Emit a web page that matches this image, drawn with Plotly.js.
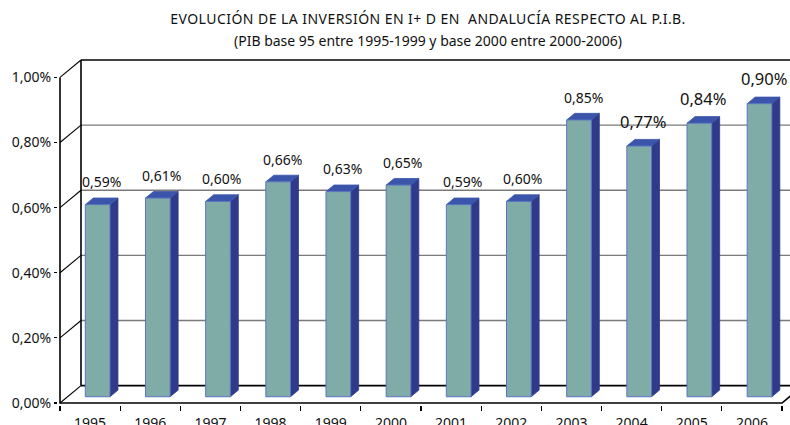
<!DOCTYPE html>
<html>
<head>
<meta charset="utf-8">
<script src="https://cdn.plot.ly/plotly-3.0.1.min.js"></script>
<style>
  html, body { margin: 0; padding: 0; background: #fff; }
  #chart { width: 790px; height: 425px; }
  #chart .gtitle { letter-spacing: 0.45px; }
</style>
</head>
<body>
<div id="chart"></div>
<script>
// ---------------- DATA ----------------
const years = ['1995', '1996', '1997', '1998', '1999', '2000', '2001', '2002', '2003', '2004', '2005', '2006'];
const values = [0.59, 0.61, 0.60, 0.66, 0.63, 0.65, 0.59, 0.60, 0.85, 0.77, 0.84, 0.90]; // % of GDP
const yTickVals = [0, 0.2, 0.4, 0.6, 0.8, 1.0];
const yTickText = ['0,00%', '0,20%', '0,40%', '0,60%', '0,80%', '1,00%'];
const titleText = 'EVOLUCIÓN DE LA INVERSIÓN EN I+ D EN  ANDALUCÍA RESPECTO AL P.I.B.';
const subtitleText = '(PIB base 95 entre 1995-1999 y base 2000 entre 2000-2006)';

// ---------------- GEOMETRY (layout only) ----------------
const W = 790, H = 425;
const PLOT_L = 58, PLOT_R = 790, PLOT_T = 54, PLOT_B = 405;
const FRONT_LEFT_PX = 60;     // pixel of category edge -0.5 on the front plane
const PX_PER_CAT = 60.17;
const ZERO_PX = 403.0;        // pixel of 0% on the front plane
const PX_PER_PCT = 325.6;
const DEPTH_DX_PX = 21, DEPTH_DY_PX = 17.4;
const DX = DEPTH_DX_PX / PX_PER_CAT;   // full depth in x units
const DY = DEPTH_DY_PX / PX_PER_PCT;   // full depth in y units
const xRange = [(PLOT_L - FRONT_LEFT_PX) / PX_PER_CAT - 0.5, (PLOT_R - FRONT_LEFT_PX) / PX_PER_CAT - 0.5];
const yRange = [(ZERO_PX - PLOT_B) / PX_PER_PCT, (ZERO_PX - PLOT_T) / PX_PER_PCT];

const BAR_W = 0.41, D0 = 0.36, D1 = 0.74, LABEL_D = 0.55;
const xFirst = -0.5, xLast = years.length - 0.5;
const yMax = yTickVals[yTickVals.length - 1];

function P(u, v, d) { return [u + d * DX, v + d * DY]; }

const traces = [];
function seg(points, color, width) {
  const xs = [], ys = [];
  points.forEach(p => { if (p === null) { xs.push(null); ys.push(null); } else { xs.push(p[0]); ys.push(p[1]); } });
  traces.push({ x: xs, y: ys, mode: 'lines', type: 'scatter', hoverinfo: 'skip',
    line: { color: color, width: width }, showlegend: false });
}

// back wall grid lines (grey), excluding bottom and top
const greyPts = [];
yTickVals.slice(1, -1).forEach(t => { greyPts.push(P(xFirst, t, 1), P(xLast, t, 1), null); });
seg(greyPts, '#7a7a7a', 1.3);

// left wall diagonals (black)
const diagPts = [];
yTickVals.forEach(t => { diagPts.push(P(xFirst, t, 0), P(xFirst, t, 1), null); });
seg(diagPts, '#000', 1.1);

// back wall frame: bottom, top, left & right verticals
seg([P(xFirst, 0, 1), P(xLast, 0, 1), null,
     P(xFirst, yMax, 1), P(xLast, yMax, 1), null,
     P(xFirst, 0, 1), P(xFirst, yMax, 1), null,
     P(xLast, 0, 1), P(xLast, yMax, 1)], '#000', 1.6);

// front y axis and floor front edge
seg([P(xFirst, yMax, 0), P(xFirst, 0, 0), P(xLast, 0, 0), P(xLast, 0, 1)], '#000', 1.6);

// bars: front, side, top faces
const fx = [], fy = [], sx = [], sy = [], tx = [], ty = [];
values.forEach((v, i) => {
  const l = i - BAR_W / 2, r = i + BAR_W / 2;
  const front = [P(l, 0, D0), P(r, 0, D0), P(r, v, D0), P(l, v, D0), P(l, 0, D0)];
  const side = [P(r, 0, D0), P(r, 0, D1), P(r, v, D1), P(r, v, D0), P(r, 0, D0)];
  const top = [P(l, v, D0), P(r, v, D0), P(r, v, D1), P(l, v, D1), P(l, v, D0)];
  front.forEach(p => { fx.push(p[0]); fy.push(p[1]); }); fx.push(null); fy.push(null);
  side.forEach(p => { sx.push(p[0]); sy.push(p[1]); }); sx.push(null); sy.push(null);
  top.forEach(p => { tx.push(p[0]); ty.push(p[1]); }); tx.push(null); ty.push(null);
});
traces.push({ x: sx, y: sy, type: 'scatter', mode: 'lines', fill: 'toself', fillcolor: '#2f3a8b',
  line: { color: '#2f3a8b', width: 0.8 }, hoverinfo: 'skip', showlegend: false });
traces.push({ x: tx, y: ty, type: 'scatter', mode: 'lines', fill: 'toself', fillcolor: '#3b55aa',
  line: { color: '#3b55aa', width: 0.8 }, hoverinfo: 'skip', showlegend: false });
traces.push({ x: fx, y: fy, type: 'scatter', mode: 'lines', fill: 'toself', fillcolor: '#80aca8',
  line: { color: '#5b74c2', width: 1 }, hoverinfo: 'skip', showlegend: false });

// data labels
const annotations = values.map((v, i) => {
  const p = P(i, v, LABEL_D);
  return { x: p[0], y: p[1], xref: 'x', yref: 'y', showarrow: false, yanchor: 'bottom',
    yshift: 8, text: v.toFixed(2).replace('.', ',') + '%',
    font: { family: 'Noto Sans, sans-serif', size: i >= 9 ? 16.5 : 14, color: '#111' } };
});
annotations.push({ text: subtitleText, xref: 'paper', yref: 'paper',
  x: (428 - PLOT_L) / (PLOT_R - PLOT_L), y: (PLOT_B - 40) / (PLOT_B - PLOT_T),
  showarrow: false, xanchor: 'center', yanchor: 'middle',
  font: { family: 'Noto Sans, sans-serif', size: 14, color: '#111' } });

const layout = {
  width: W, height: H,
  margin: { l: PLOT_L, r: W - PLOT_R, t: PLOT_T, b: H - PLOT_B, pad: 0 },
  paper_bgcolor: '#fff', plot_bgcolor: 'rgba(0,0,0,0)',
  separators: ',.',
  showlegend: false,
  title: { text: titleText, x: 428 / W, xanchor: 'center', xref: 'container',
    y: 1 - 19 / H, yref: 'container', yanchor: 'middle',
    font: { family: 'Noto Sans, sans-serif', size: 14, color: '#111' } },
  xaxis: { range: xRange, showgrid: false, zeroline: false, showline: false,
    tickmode: 'array', tickvals: years.map((_, i) => i), ticktext: years, ticks: '',
    ticklabelstandoff: 8,
    tickfont: { family: 'Noto Sans, sans-serif', size: 14, color: '#111' },
    minor: { tickmode: 'linear', tick0: 0.5, dtick: 1, ticks: 'outside', ticklen: 5, tickwidth: 1.2, tickcolor: '#000', showgrid: false },
    fixedrange: true },
  yaxis: { range: yRange, showgrid: false, zeroline: false, showline: false,
    tickmode: 'array', tickvals: yTickVals, ticktext: yTickText,
    ticks: 'outside', ticklen: 3, tickwidth: 1.2, tickcolor: '#000',
    tickfont: { family: 'Noto Sans, sans-serif', size: 14, color: '#111' },
    fixedrange: true },
  annotations: annotations
};

Plotly.newPlot('chart', traces, layout, { staticPlot: true, displayModeBar: false });
</script>
</body>
</html>
